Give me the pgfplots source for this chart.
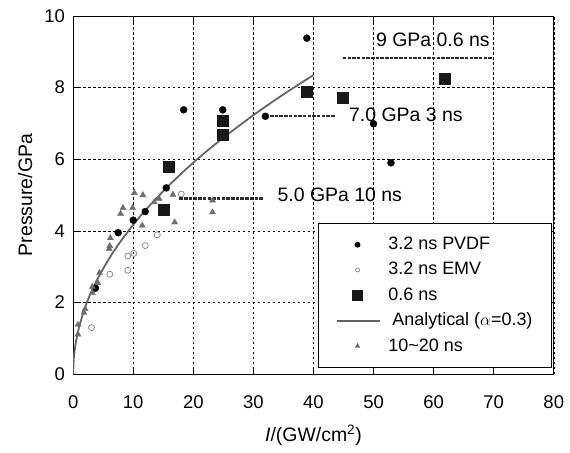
\documentclass[border=0pt]{standalone}
\usepackage{fontspec}
\setmainfont{Liberation Sans}
\usepackage{pgfplots}
\pgfplotsset{compat=1.18}
\definecolor{curvegray}{RGB}{100,100,100}
\definecolor{emvgray}{RGB}{140,140,140}
\definecolor{trigray}{RGB}{110,110,110}
\definecolor{sqblack}{RGB}{25,25,25}
\definecolor{lvlgray}{RGB}{45,45,45}
\begin{document}
\fontsize{18}{21}\selectfont
\begin{tikzpicture}
\begin{axis}[
    name=ax,
    scale only axis,
    width=481.7pt, height=359pt,
    xmin=0, xmax=80, ymin=0, ymax=10,
    xtick={0,10,...,80}, ytick={0,2,...,10},
    tick align=inside, major tick length=7pt,
    tick style={black, line width=0.6pt},
    axis line style={black, line width=0.8pt},
    grid=major,
    grid style={black, line width=0.5pt, dash pattern=on 2.5pt off 2.5pt},
    /pgf/number format/assume math mode=true,
    ticklabel style={font=\fontsize{18.5}{21}\selectfont},
    xticklabel style={yshift=-15pt},
    yticklabel style={xshift=-2pt},
    xlabel={\textit{I}/(GW/cm\textsuperscript{2})},
    ylabel={Pressure/GPa},
    xlabel style={font=\fontsize{19.5}{22}\selectfont, yshift=-4pt},
    ylabel style={font=\fontsize{19.5}{22}\selectfont},
    legend cell align=left,
    legend style={at={(rel axis cs:0.996,0.017)}, anchor=south east,
      draw=black, line width=0.8pt, fill=white,
      font=\fontsize{18}{21}\selectfont, row sep=6pt,
      inner xsep=17pt, inner ysep=12pt,
      /tikz/every odd column/.style={column sep=6pt}},
    legend image code/.code={\draw[mark repeat=2,mark phase=2,#1]
      plot coordinates {(0pt,0pt) (21pt,0pt) (43pt,0pt)};},
]
% 3.2 ns PVDF
\addplot[only marks, mark=*, mark size=3.5pt, black,
  legend image post style={mark size=2.5pt}] coordinates {
  (3.7,2.4) (7.5,3.95) (10,4.3) (12,4.54) (15.5,5.2) (18.4,7.38)
  (24.9,7.38) (32,7.2) (38.9,9.38) (50,6.99) (52.9,5.9)};
\addlegendentry{3.2 ns PVDF}
% 3.2 ns EMV
\addplot[only marks, mark=o, mark size=3pt, emvgray, mark options={line width=0.8pt},
  legend image post style={mark size=2pt}] coordinates {
  (3.06,1.3) (6.1,2.79) (9.1,2.9) (9.1,3.3) (10.1,3.37) (12,3.59)
  (14,3.89) (18,5.03)};
\addlegendentry{3.2 ns EMV}
% 0.6 ns
\addplot[only marks, mark=square*, mark size=5.5pt, sqblack,
  legend image post style={mark size=5pt}] coordinates {
  (15.1,4.59) (15.9,5.79) (24.9,6.69) (24.9,7.08) (38.9,7.88)
  (44.9,7.71) (61.9,8.26)};
\addlegendentry{0.6 ns}
% analytical curve
\addplot[curvegray, line width=1.8pt, smooth, no marks] coordinates {
  (0,0) (0.1,0.42) (0.25,0.66) (0.5,0.93) (1,1.32) (2,1.87) (3,2.29)
  (4,2.64) (6,3.23) (8,3.73) (10,4.17) (12,4.57) (15,5.11) (18,5.60)
  (21,6.05) (25,6.60) (30,7.23) (35,7.81) (40,8.35)};
\addlegendentry{\hspace{4pt}Analytical ($\alpha$=0.3)}
% 10~20 ns
\addplot[only marks, mark=triangle*, mark size=3.5pt, trigray,
  legend image post style={mark size=2.3pt}] coordinates {
  (0.8,1.11) (0.8,1.38) (1.8,1.72) (2.0,1.82) (3.2,2.27) (3.2,2.44)
  (4.1,2.55) (4.4,2.83) (6.0,3.5) (6.1,3.58) (6.2,3.8) (7.9,4.48)
  (8.3,4.64) (9.9,4.64) (10.2,5.06) (11.5,4.15) (11.6,5.0) (13.5,4.8)
  (14.3,4.9) (16.6,5.01) (16.9,4.24) (23.2,4.85) (23.2,4.52)};
\addlegendentry{10\textasciitilde 20 ns}
% pressure level markers
\addplot[forget plot, lvlgray, line width=2.4pt, dash pattern=on 3.5pt off 1.2pt]
  coordinates {(44.9,8.82) (69.8,8.82)};
\addplot[forget plot, lvlgray, line width=2.4pt, dash pattern=on 3.5pt off 1.2pt]
  coordinates {(32,7.2) (43.7,7.2)};
\addplot[forget plot, lvlgray, line width=2.4pt, dash pattern=on 3.5pt off 1.2pt]
  coordinates {(17.7,4.9) (31.7,4.9)};
\node[anchor=west, inner sep=0pt, font=\fontsize{19.5}{22}\selectfont]
  at (axis cs:50.4,9.33) {9 GPa 0.6 ns};
\node[anchor=west, inner sep=0pt, font=\fontsize{19.5}{22}\selectfont]
  at (axis cs:45.9,7.24) {7.0 GPa 3 ns};
\node[anchor=west, inner sep=0pt, font=\fontsize{19.5}{22}\selectfont]
  at (axis cs:34.0,5.01) {5.0 GPa 10 ns};
\end{axis}
\path ([shift={(-73.3pt,-79pt)}]ax.south west) rectangle ([shift={(15pt,16pt)}]ax.north east);
\end{tikzpicture}
\end{document}
